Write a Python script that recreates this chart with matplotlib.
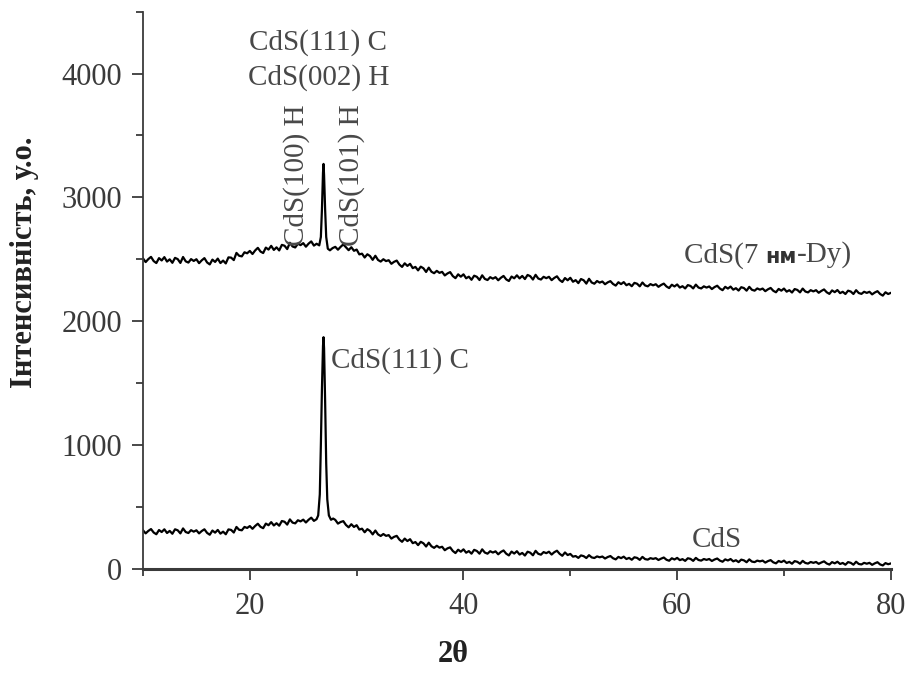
import numpy as np
import matplotlib
matplotlib.use("Agg")
import matplotlib.pyplot as plt
from matplotlib.ticker import MultipleLocator

# 2theta scan grid: 0.25 deg background steps + finer points across the peak
tt_left = np.arange(10.0, 26.01, 0.25)
tt_right = np.arange(28.0, 80.01, 0.25)
tt_peak_dy = [26.25, 26.5, 26.65, 26.75, 26.85, 26.9, 26.95, 27.05, 27.15, 27.3, 27.5, 27.75]
tt_peak_cds = [26.25, 26.4, 26.55, 26.65, 26.75, 26.85, 26.9, 26.95, 27.05, 27.15, 27.25, 27.4, 27.6, 27.8]

# CdS (7 nm Dy) - upper pattern
dy_left = [2507, 2477, 2501, 2519, 2485, 2469, 2509, 2490, 2517, 2481,
           2499, 2471, 2511, 2501, 2470, 2518, 2483, 2473, 2501, 2486,
           2500, 2468, 2491, 2509, 2474, 2458, 2497, 2478, 2505, 2469,
           2489, 2466, 2515, 2513, 2493, 2551, 2528, 2523, 2556, 2548,
           2567, 2542, 2571, 2592, 2562, 2550, 2594, 2578, 2608, 2575,
           2596, 2571, 2616, 2609, 2582, 2633, 2603, 2595, 2625, 2614,
           2630, 2601, 2626, 2644, 2610]
dy_peak = [2625, 2612, 2680, 2900, 3200, 3270, 3180, 2900, 2680, 2585, 2572, 2590]
dy_right = [2600, 2577, 2600, 2620, 2597, 2573, 2597, 2568, 2578, 2539,
            2545, 2514, 2540, 2526, 2495, 2528, 2494, 2481, 2500, 2485,
            2492, 2463, 2479, 2489, 2457, 2438, 2467, 2446, 2463, 2428,
            2438, 2410, 2440, 2427, 2397, 2432, 2399, 2387, 2406, 2390,
            2398, 2369, 2385, 2396, 2364, 2347, 2378, 2359, 2378, 2346,
            2359, 2334, 2367, 2358, 2332, 2370, 2341, 2332, 2355, 2343,
            2355, 2330, 2350, 2365, 2337, 2324, 2360, 2346, 2370, 2345,
            2365, 2340, 2373, 2363, 2336, 2374, 2344, 2336, 2358, 2347,
            2358, 2331, 2349, 2362, 2332, 2316, 2348, 2330, 2350, 2318,
            2331, 2307, 2340, 2330, 2303, 2342, 2312, 2302, 2324, 2311,
            2320, 2298, 2313, 2323, 2300, 2287, 2314, 2299, 2315, 2290,
            2301, 2282, 2309, 2302, 2281, 2312, 2288, 2281, 2299, 2289,
            2298, 2277, 2292, 2303, 2280, 2267, 2294, 2280, 2296, 2271,
            2282, 2264, 2291, 2284, 2264, 2295, 2271, 2264, 2281, 2271,
            2280, 2259, 2275, 2286, 2263, 2250, 2277, 2263, 2279, 2254,
            2266, 2247, 2274, 2267, 2246, 2277, 2253, 2246, 2264, 2254,
            2263, 2242, 2257, 2268, 2245, 2233, 2260, 2246, 2263, 2238,
            2250, 2231, 2259, 2252, 2232, 2263, 2239, 2232, 2250, 2240,
            2250, 2229, 2244, 2256, 2233, 2220, 2248, 2234, 2251, 2226,
            2237, 2219, 2246, 2239, 2219, 2250, 2227, 2220, 2237, 2228,
            2237, 2216, 2231, 2242, 2219, 2206, 2233, 2219, 2228]

# CdS - lower pattern
cds_left = [310, 285, 305, 320, 292, 278, 312, 296, 318, 288,
            305, 282, 318, 310, 285, 325, 296, 288, 311, 299,
            310, 285, 304, 318, 289, 274, 308, 291, 313, 283,
            299, 278, 317, 313, 292, 337, 314, 310, 337, 329,
            344, 322, 345, 363, 338, 327, 364, 351, 376, 349,
            367, 347, 385, 379, 356, 398, 372, 366, 391, 382,
            396, 373, 395, 412, 386]
cds_peak = [400, 430, 600, 1000, 1450, 1800, 1870, 1780, 1350, 850, 560, 430, 395, 405]
cds_right = [394, 364, 377, 384, 353, 334, 359, 337, 351, 316,
             323, 294, 319, 305, 277, 308, 277, 264, 280, 265,
             271, 243, 257, 265, 235, 217, 243, 223, 238, 206,
             215, 190, 217, 205, 179, 210, 181, 168, 185, 170,
             177, 149, 164, 172, 143, 126, 153, 137, 156, 129,
             142, 121, 152, 143, 121, 156, 130, 121, 141, 130,
             140, 116, 135, 147, 121, 107, 138, 122, 141, 114,
             127, 106, 137, 129, 108, 144, 120, 113, 134, 125,
             137, 114, 133, 145, 120, 104, 131, 110, 119, 97,
             102, 87, 107, 101, 86, 109, 91, 86, 99, 92,
             98, 82, 94, 102, 84, 75, 95, 85, 97, 78,
             87, 72, 92, 87, 71, 95, 77, 73, 85, 79,
             85, 70, 81, 90, 72, 64, 84, 74, 87, 69,
             77, 63, 84, 79, 63, 87, 70, 65, 78, 71,
             78, 62, 74, 82, 65, 56, 75, 66, 78, 59,
             68, 53, 73, 67, 52, 75, 57, 53, 65, 59,
             65, 49, 61, 69, 51, 43, 62, 53, 65, 46,
             55, 40, 61, 55, 40, 63, 46, 41, 54, 47,
             54, 39, 50, 59, 42, 33, 53, 43, 56, 38,
             46, 32, 53, 47, 32, 56, 38, 34, 47, 40,
             47, 31, 43, 52, 34, 26, 45, 36, 42]

tt_dy = np.concatenate([tt_left, tt_peak_dy, tt_right])
i_dy = np.array(dy_left + dy_peak + dy_right)
tt_cds = np.concatenate([tt_left, tt_peak_cds, tt_right])
i_cds = np.array(cds_left + cds_peak + cds_right)

serif = ["Liberation Serif", "DejaVu Serif"]
grey = "#3a3a3a"
txt = "#484848"

fig = plt.figure(figsize=(9.09, 6.79), dpi=100)
ax = fig.add_axes([0.1573, 0.1625, 0.8227, 0.8203])

ax.plot(tt_dy, i_dy, color="black", lw=1.6)
ax.plot(tt_cds, i_cds, color="black", lw=1.6)

ax.set_xlim(10, 80)
ax.set_ylim(0, 4500)
ax.xaxis.set_major_locator(MultipleLocator(20))
ax.xaxis.set_minor_locator(MultipleLocator(10))
ax.yaxis.set_major_locator(MultipleLocator(1000))
ax.yaxis.set_minor_locator(MultipleLocator(500))

for s in ["top", "right"]:
    ax.spines[s].set_visible(False)
ax.spines["left"].set_color(grey)
ax.spines["left"].set_linewidth(1.3)
ax.spines["bottom"].set_color(grey)
ax.spines["bottom"].set_linewidth(2.2)

ax.tick_params(which="major", direction="out", length=8, width=1.3,
               color=grey, labelcolor=grey, labelsize=22)
ax.tick_params(which="minor", direction="out", length=5, width=1.3, color=grey)
ax.tick_params(axis="x", which="major", pad=9)
ax.tick_params(axis="y", which="major", pad=7)
for lab in ax.get_xticklabels() + ax.get_yticklabels():
    lab.set_fontfamily(serif)

# peak labels
kw = dict(fontfamily=serif, fontsize=21, color=txt)
ax.text(26.4, 4250, "CdS(111) C", ha="center", va="center", **kw)
ax.text(26.4, 3965, "CdS(002) H", ha="center", va="center", **kw)
ax.text(24.4, 2610, "CdS(100) H", ha="center", va="bottom", rotation=90, **kw)
ax.text(29.5, 2610, "CdS(101) H", ha="center", va="bottom", rotation=90, **kw)
ax.text(27.6, 1683, "CdS(111) C", ha="left", va="center", **kw)
ax.text(63.7, 231, "CdS", ha="center", va="center", **kw)

t1 = ax.text(60.65, 2530, "CdS(7 ", ha="left", va="center", **kw)
t2 = ax.annotate("нм", xy=(1, 0.08), xycoords=t1, va="bottom", ha="left",
                 fontfamily="DejaVu Sans", fontweight="bold", fontsize=15,
                 color="#333333")
ax.annotate("-Dy)", xy=(1, -0.08), xycoords=t2, va="bottom", ha="left", **kw)

fig.text(25 / 909, 1 - 262 / 679, "Інтенсивність, у.о.", rotation=90,
         ha="center", va="center", fontfamily=serif, fontweight="bold",
         fontsize=22, color="#222222")
fig.text(453 / 909, 1 - 655 / 679, "2θ", ha="center", va="center",
         fontfamily=serif, fontweight="bold", fontsize=22, color="#222222")

plt.savefig("out.png", dpi=100)
